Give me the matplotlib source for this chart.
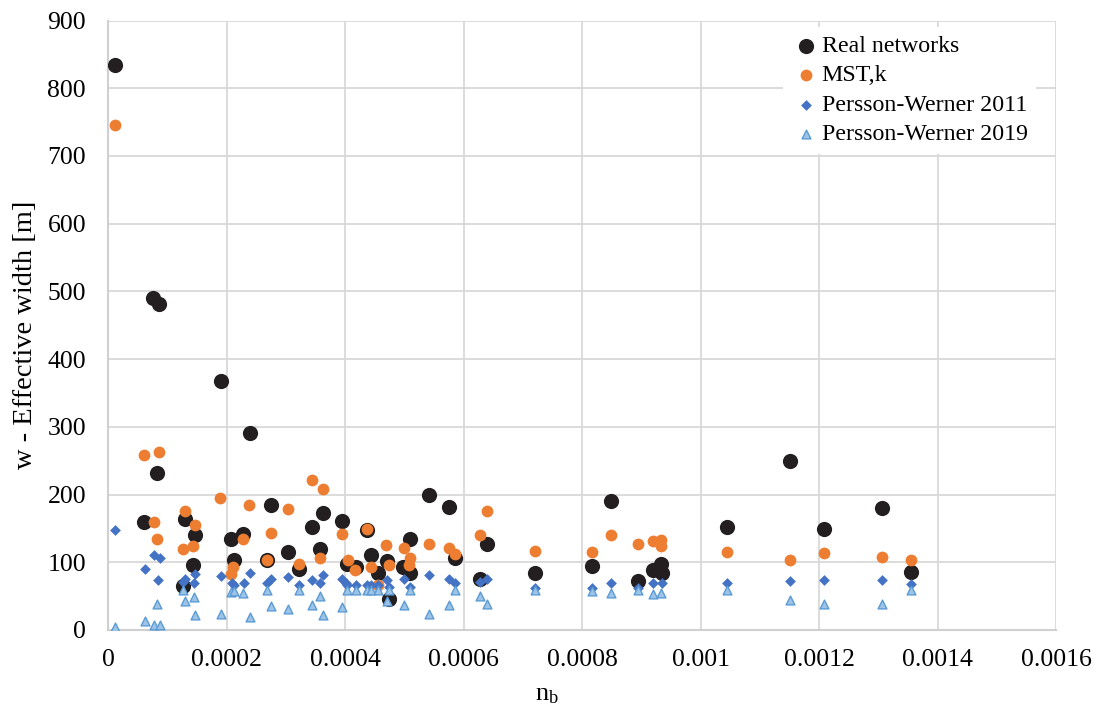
import matplotlib
matplotlib.use("Agg")
import matplotlib.pyplot as plt

plt.rcParams['font.family'] = ['Liberation Serif', 'DejaVu Serif']
plt.rcParams['mathtext.fontset'] = 'custom'
plt.rcParams['mathtext.rm'] = 'Liberation Serif'
plt.rcParams['mathtext.it'] = 'Liberation Serif:italic'

# Real networks
real_x = [0.0000118, 0.0000760, 0.0000860, 0.0000821, 0.0000596, 0.000130, 0.0001457, 0.0001431,
          0.0001254, 0.0001904, 0.0002388, 0.0002071, 0.0002273, 0.0002116, 0.000268, 0.0002746,
          0.0003027, 0.0003224, 0.0003443, 0.0003623, 0.0003567, 0.000395, 0.000403, 0.0004182,
          0.0004363, 0.0004433, 0.0004554, 0.0004705, 0.0004736, 0.0004978, 0.0005098, 0.0005098,
          0.0005421, 0.0005743, 0.0005854, 0.0006388, 0.0006277, 0.0007194, 0.0008172, 0.0008484,
          0.0008947, 0.0009199, 0.000933, 0.000934, 0.0010449, 0.0011507, 0.0012071, 0.0013058, 0.0013552]
real_y = [835, 490, 482, 232, 159, 164, 140, 96,
          65, 367, 291, 135, 142, 103, 103, 184,
          115, 89.5, 152, 173, 119.5, 161, 98, 92.5,
          147.5, 111, 84.5, 102, 46, 93.5, 135, 84.5,
          199, 181, 107, 127, 76, 84.5, 94.5, 191,
          72, 88.5, 97, 83.6, 152, 250, 148.5, 179.5, 86]

# MST,k
mst_x = [0.0000118, 0.0000608, 0.0000860, 0.0000765, 0.0000821, 0.000130, 0.0001457, 0.0001431,
         0.0001254, 0.000189, 0.0002378, 0.0002746, 0.0003027, 0.000268, 0.0002106, 0.0002076,
         0.0002277, 0.0003224, 0.0003443, 0.0003623, 0.0003567, 0.000395, 0.000404, 0.0004171,
         0.0004363, 0.0004433, 0.0004544, 0.0004695, 0.0004736, 0.0004988, 0.0005088, 0.0005078,
         0.0005411, 0.0005743, 0.0005844, 0.0006277, 0.0006388, 0.0007194, 0.0008172, 0.0008484,
         0.0008937, 0.0009189, 0.000932, 0.000933, 0.0010449, 0.0011507, 0.0012071, 0.0013058, 0.0013552]
mst_y = [746, 258, 263, 160, 135, 175.5, 155, 124,
         119, 195, 185, 142.6, 178, 103, 93.5, 82.6,
         135, 97, 222, 208.5, 105.8, 141.6, 104, 88.5,
         149, 92.5, 67, 126, 96, 120.5, 105.7, 96,
         127, 121, 111.6, 139.7, 176, 117, 115.5, 140,
         127, 132, 133, 124, 115.5, 104, 113, 108, 104]

# Persson-Werner 2011
pw11_x = [0.0000118, 0.0000613, 0.0000765, 0.0000867, 0.0000832, 0.0001254, 0.000130, 0.0001457,
          0.0001441, 0.0001904, 0.0002086, 0.0002116, 0.0002287, 0.0002388, 0.000268, 0.0002746,
          0.0003027, 0.0003224, 0.0003443, 0.0003577, 0.0003623, 0.000395, 0.000403, 0.0004017,
          0.0004182, 0.0004363, 0.0004433, 0.0004554, 0.0004705, 0.0004736, 0.0004988, 0.0005098,
          0.0005421, 0.0005743, 0.0005854, 0.0006277, 0.0006388, 0.0007194, 0.0008172, 0.0008484,
          0.0008947, 0.0009199, 0.000934, 0.0010449, 0.0011507, 0.0012071, 0.0013058, 0.0013552]
pw11_y = [147.5, 89.5, 110.6, 105.7, 73.8, 71, 76, 82.6,
          70, 80, 70, 66.4, 69, 84.5, 69, 76,
          77.7, 66.4, 73.8, 70, 81, 76, 66.4, 69,
          66.4, 66.4, 66.4, 66.4, 73.8, 64, 75, 64,
          80.6, 75, 69, 71, 75, 62.4, 61.4, 70,
          61.4, 70, 70, 69, 72, 74, 74, 68]

# Persson-Werner 2019
pw19_x = [0.0000118, 0.0000613, 0.0000776, 0.0000867, 0.0000821, 0.0001254, 0.000129, 0.0001441,
          0.0001461, 0.0001904, 0.0002076, 0.0002116, 0.0002277, 0.0002388, 0.000268, 0.0002746,
          0.0003027, 0.0003224, 0.0003443, 0.0003567, 0.0003623, 0.000395, 0.000403, 0.0004182,
          0.0004363, 0.0004433, 0.0004554, 0.0004705, 0.0004736, 0.0004988, 0.0005088, 0.0005411,
          0.0005743, 0.0005854, 0.0006277, 0.0006388, 0.0007194, 0.0008172, 0.0008484, 0.0008947,
          0.0009199, 0.000933, 0.0010449, 0.0011507, 0.0012071, 0.0013058, 0.0013552]
pw19_y = [4, 14, 7.4, 7.4, 39, 59, 43, 49,
          21.6, 23.6, 56.5, 58, 55, 18.7, 59, 35.4,
          31, 59, 37, 50.6, 22, 34.4, 59, 59,
          59, 59, 59, 43, 59, 37, 59, 23,
          37, 59, 50.6, 39, 59, 58, 54, 59,
          53, 55, 59, 44, 38, 39, 59]

x_ticks = [0, 0.0002, 0.0004, 0.0006, 0.0008, 0.001, 0.0012, 0.0014, 0.0016]
x_tick_labels = ['0', '0.0002', '0.0004', '0.0006', '0.0008', '0.001', '0.0012', '0.0014', '0.0016']
y_ticks = [0, 100, 200, 300, 400, 500, 600, 700, 800, 900]

W, H = 1098, 713
fig = plt.figure(figsize=(W / 100, H / 100), dpi=100)
ax_l, ax_r, ax_t, ax_b = 108.3, 1056.3, 20.5, 630
ax = fig.add_axes([ax_l / W, 1 - ax_b / H, (ax_r - ax_l) / W, (ax_b - ax_t) / H])

ax.scatter(real_x, real_y, s=120, color='#231f20', marker='o', label='Real networks', zorder=3, linewidths=0)
ax.scatter(mst_x, mst_y, s=72, color='#ED7D31', marker='o', label='MST,k', zorder=4, linewidths=0)
ax.scatter(pw11_x, pw11_y, s=30, color='#4472C4', marker='D', label='Persson-Werner 2011', zorder=5, linewidths=0)
ax.scatter(pw19_x, pw19_y, s=40, color='#9DC3E6', edgecolors='#5B9BD5', linewidths=1.0,
           marker='^', label='Persson-Werner 2019', zorder=6)

ax.set_xlim(0, 0.0016)
ax.set_ylim(0, 900)
ax.set_xticks(x_ticks)
ax.set_xticklabels(x_tick_labels)
ax.set_yticks(y_ticks)
ax.tick_params(axis='both', labelsize=18.5, length=0, labelcolor='black')
ax.tick_params(axis='y', pad=16)
ax.tick_params(axis='x', pad=14)

ax.grid(True, color='#d9d9d9', linewidth=1.3, zorder=0)
ax.set_axisbelow(True)
for side in ['top', 'right']:
    ax.spines[side].set_visible(False)
for side in ['left', 'bottom']:
    ax.spines[side].set_color('#d0d0d0')
    ax.spines[side].set_linewidth(1.5)

ax.set_xlabel('n$_\\mathrm{b}$', fontsize=19)
ax.xaxis.set_label_coords((547 - ax_l) / (ax_r - ax_l), (ax_b - 684) / (ax_b - ax_t))
ax.set_ylabel('w - Effective width [m]', fontsize=20.5)
ax.yaxis.set_label_coords((38 - ax_l) / (ax_r - ax_l), (ax_b - 335) / (ax_b - ax_t))

leg = ax.legend(loc='upper right', bbox_to_anchor=((1036 - ax_l) / (ax_r - ax_l), (ax_b - 27) / (ax_b - ax_t)),
                fontsize=17.2, frameon=True, framealpha=1, edgecolor='white', facecolor='white',
                handletextpad=0.05, borderpad=0.35, borderaxespad=0,
                labelspacing=0.32, markerscale=1.0, handlelength=1.2)
leg.get_frame().set_linewidth(0)

fig.savefig('out.png', dpi=100, facecolor='white')
